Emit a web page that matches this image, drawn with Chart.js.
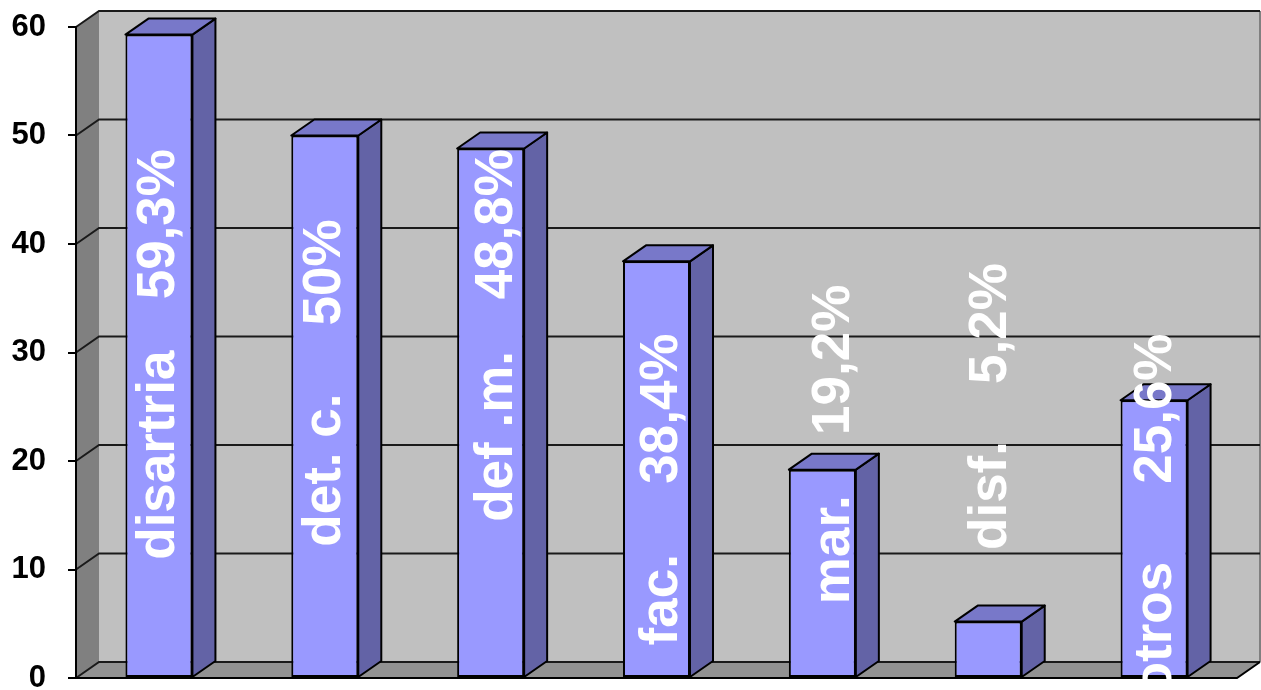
<!DOCTYPE html>
<html>
<head>
<meta charset="utf-8">
<script src="https://cdn.jsdelivr.net/npm/chart.js@4.4.0/dist/chart.umd.min.js"></script>
<style>
  html, body { margin: 0; padding: 0; background: #fff; }
  canvas { display: block; }
</style>
</head>
<body>
<canvas id="chart" width="1261" height="690"></canvas>
<script>
const categories = ['disartria', 'det. c.', 'def .m.', 'fac.', 'mar.', 'disf.', 'otros'];
const values = [59.3, 50, 48.8, 38.4, 19.2, 5.2, 25.6];
const yTicks = [0, 10, 20, 30, 40, 50, 60];

// fake 3D depth of walls and bars
const DX = 23;
const DY = -16;

const FONT = '"Liberation Sans", Arial, sans-serif';

function pctText(v) {
  return String(v).replace('.', ',') + '%';
}

function poly(ctx, pts, fill, stroke) {
  ctx.beginPath();
  ctx.moveTo(pts[0][0], pts[0][1]);
  for (let i = 1; i < pts.length; i++) ctx.lineTo(pts[i][0], pts[i][1]);
  ctx.closePath();
  if (fill) { ctx.fillStyle = fill; ctx.fill(); }
  if (stroke) { ctx.strokeStyle = stroke; ctx.lineWidth = 2; ctx.stroke(); }
}

function line(ctx, pts, color, width) {
  ctx.beginPath();
  ctx.moveTo(pts[0][0], pts[0][1]);
  for (let i = 1; i < pts.length; i++) ctx.lineTo(pts[i][0], pts[i][1]);
  ctx.strokeStyle = color;
  ctx.lineWidth = width;
  ctx.stroke();
}

const wallsPlugin = {
  id: 'walls',
  beforeDraw(chart) {
    const { ctx, chartArea: a, scales: { y } } = chart;
    const y0 = y.getPixelForValue(0);
    const yTop = y.getPixelForValue(60);
    ctx.save();
    // back wall
    ctx.fillStyle = '#c0c0c0';
    ctx.fillRect(a.left + DX, yTop + DY, a.right - a.left, y0 - yTop);
    // side wall
    poly(ctx, [[a.left, yTop], [a.left + DX, yTop + DY], [a.left + DX, y0 + DY], [a.left, y0]], '#808080');
    // floor
    poly(ctx, [[a.left, y0], [a.right, y0], [a.right + DX, y0 + DY], [a.left + DX, y0 + DY]], '#929292');
    // right edge of the back wall
    line(ctx, [[a.right + DX, yTop + DY], [a.right + DX, y0 + DY]], '#808080', 2);
    // gridlines wrap round the side wall and the back wall
    yTicks.forEach(t => {
      const p = y.getPixelForValue(t);
      line(ctx, [[a.left, p], [a.left + DX, p + DY], [a.right + DX, p + DY]], '#1a1a1a', 2);
    });
    // floor front and right edges
    line(ctx, [[a.left, y0], [a.right, y0], [a.right + DX, y0 + DY]], '#000', 2);
    ctx.restore();
  },
  beforeDatasetsDraw(chart) {
    const { ctx } = chart;
    const meta = chart.getDatasetMeta(0);
    ctx.save();
    ctx.lineJoin = 'round';
    meta.data.forEach(bar => {
      const { x, y, base, width } = bar.getProps(['x', 'y', 'base', 'width'], true);
      const l = x - width / 2;
      const r = x + width / 2;
      poly(ctx, [[r, y], [r + DX, y + DY], [r + DX, base + DY], [r, base]], '#6363a6', '#000');
      poly(ctx, [[l, y], [l + DX, y + DY], [r + DX, y + DY], [r, y]], '#7878c9', '#000');
    });
    ctx.restore();
  },
  afterDatasetsDraw(chart, args, opts) {
    const { ctx, scales: { y } } = chart;
    const meta = chart.getDatasetMeta(0);
    ctx.save();
    ctx.font = 'bold 53px ' + FONT;
    ctx.fillStyle = '#fff';
    ctx.textAlign = 'left';
    ctx.textBaseline = 'alphabetic';
    meta.data.forEach((bar, i) => {
      const bx = bar.x + opts.shift[i];
      [[categories[i], opts.nameAt[i]], [pctText(values[i]), opts.pctAt[i]]].forEach(([txt, v]) => {
        ctx.save();
        ctx.translate(bx, y.getPixelForValue(v));
        ctx.rotate(-Math.PI / 2);
        ctx.fillText(txt, 0, 0);
        ctx.restore();
      });
    });
    ctx.restore();
  }
};

new Chart(document.getElementById('chart'), {
  type: 'bar',
  data: {
    labels: categories,
    datasets: [{
      data: values,
      backgroundColor: '#9999ff',
      borderColor: '#000',
      borderWidth: 2,
      borderSkipped: false,
      barPercentage: 0.404,
      categoryPercentage: 1
    }]
  },
  options: {
    responsive: false,
    animation: false,
    events: [],
    layout: { padding: { top: 27, right: 24, bottom: 12, left: 0 } },
    plugins: {
      legend: { display: false },
      tooltip: { enabled: false },
      walls: {
        // where each rotated label starts, in axis units, and its offset from the bar centre
        nameAt: [10.9, 12.1, 14.4, 3.0, 6.8, 11.8, -1.5],
        pctAt: [34.9, 32.5, 34.9, 17.9, 22.4, 27.1, 17.9],
        shift: [15, 15, 21, 20, 27, 18, 17]
      }
    },
    scales: {
      x: { display: false },
      y: {
        min: 0,
        max: 60,
        afterFit(scale) {
          scale.width = 76;
          scale.paddingTop = 0;
          scale.paddingBottom = 0;
        },
        afterBuildTicks(scale) {
          scale.ticks = yTicks.map(v => ({ value: v }));
        },
        ticks: {
          color: '#000',
          padding: 22,
          font: { family: FONT, size: 31, weight: 'bold' }
        },
        grid: {
          drawOnChartArea: false,
          drawTicks: true,
          tickLength: 8,
          color: '#000',
          lineWidth: 2
        },
        border: { display: true, color: '#000', width: 2 }
      }
    }
  },
  plugins: [wallsPlugin]
});
</script>
</body>
</html>
